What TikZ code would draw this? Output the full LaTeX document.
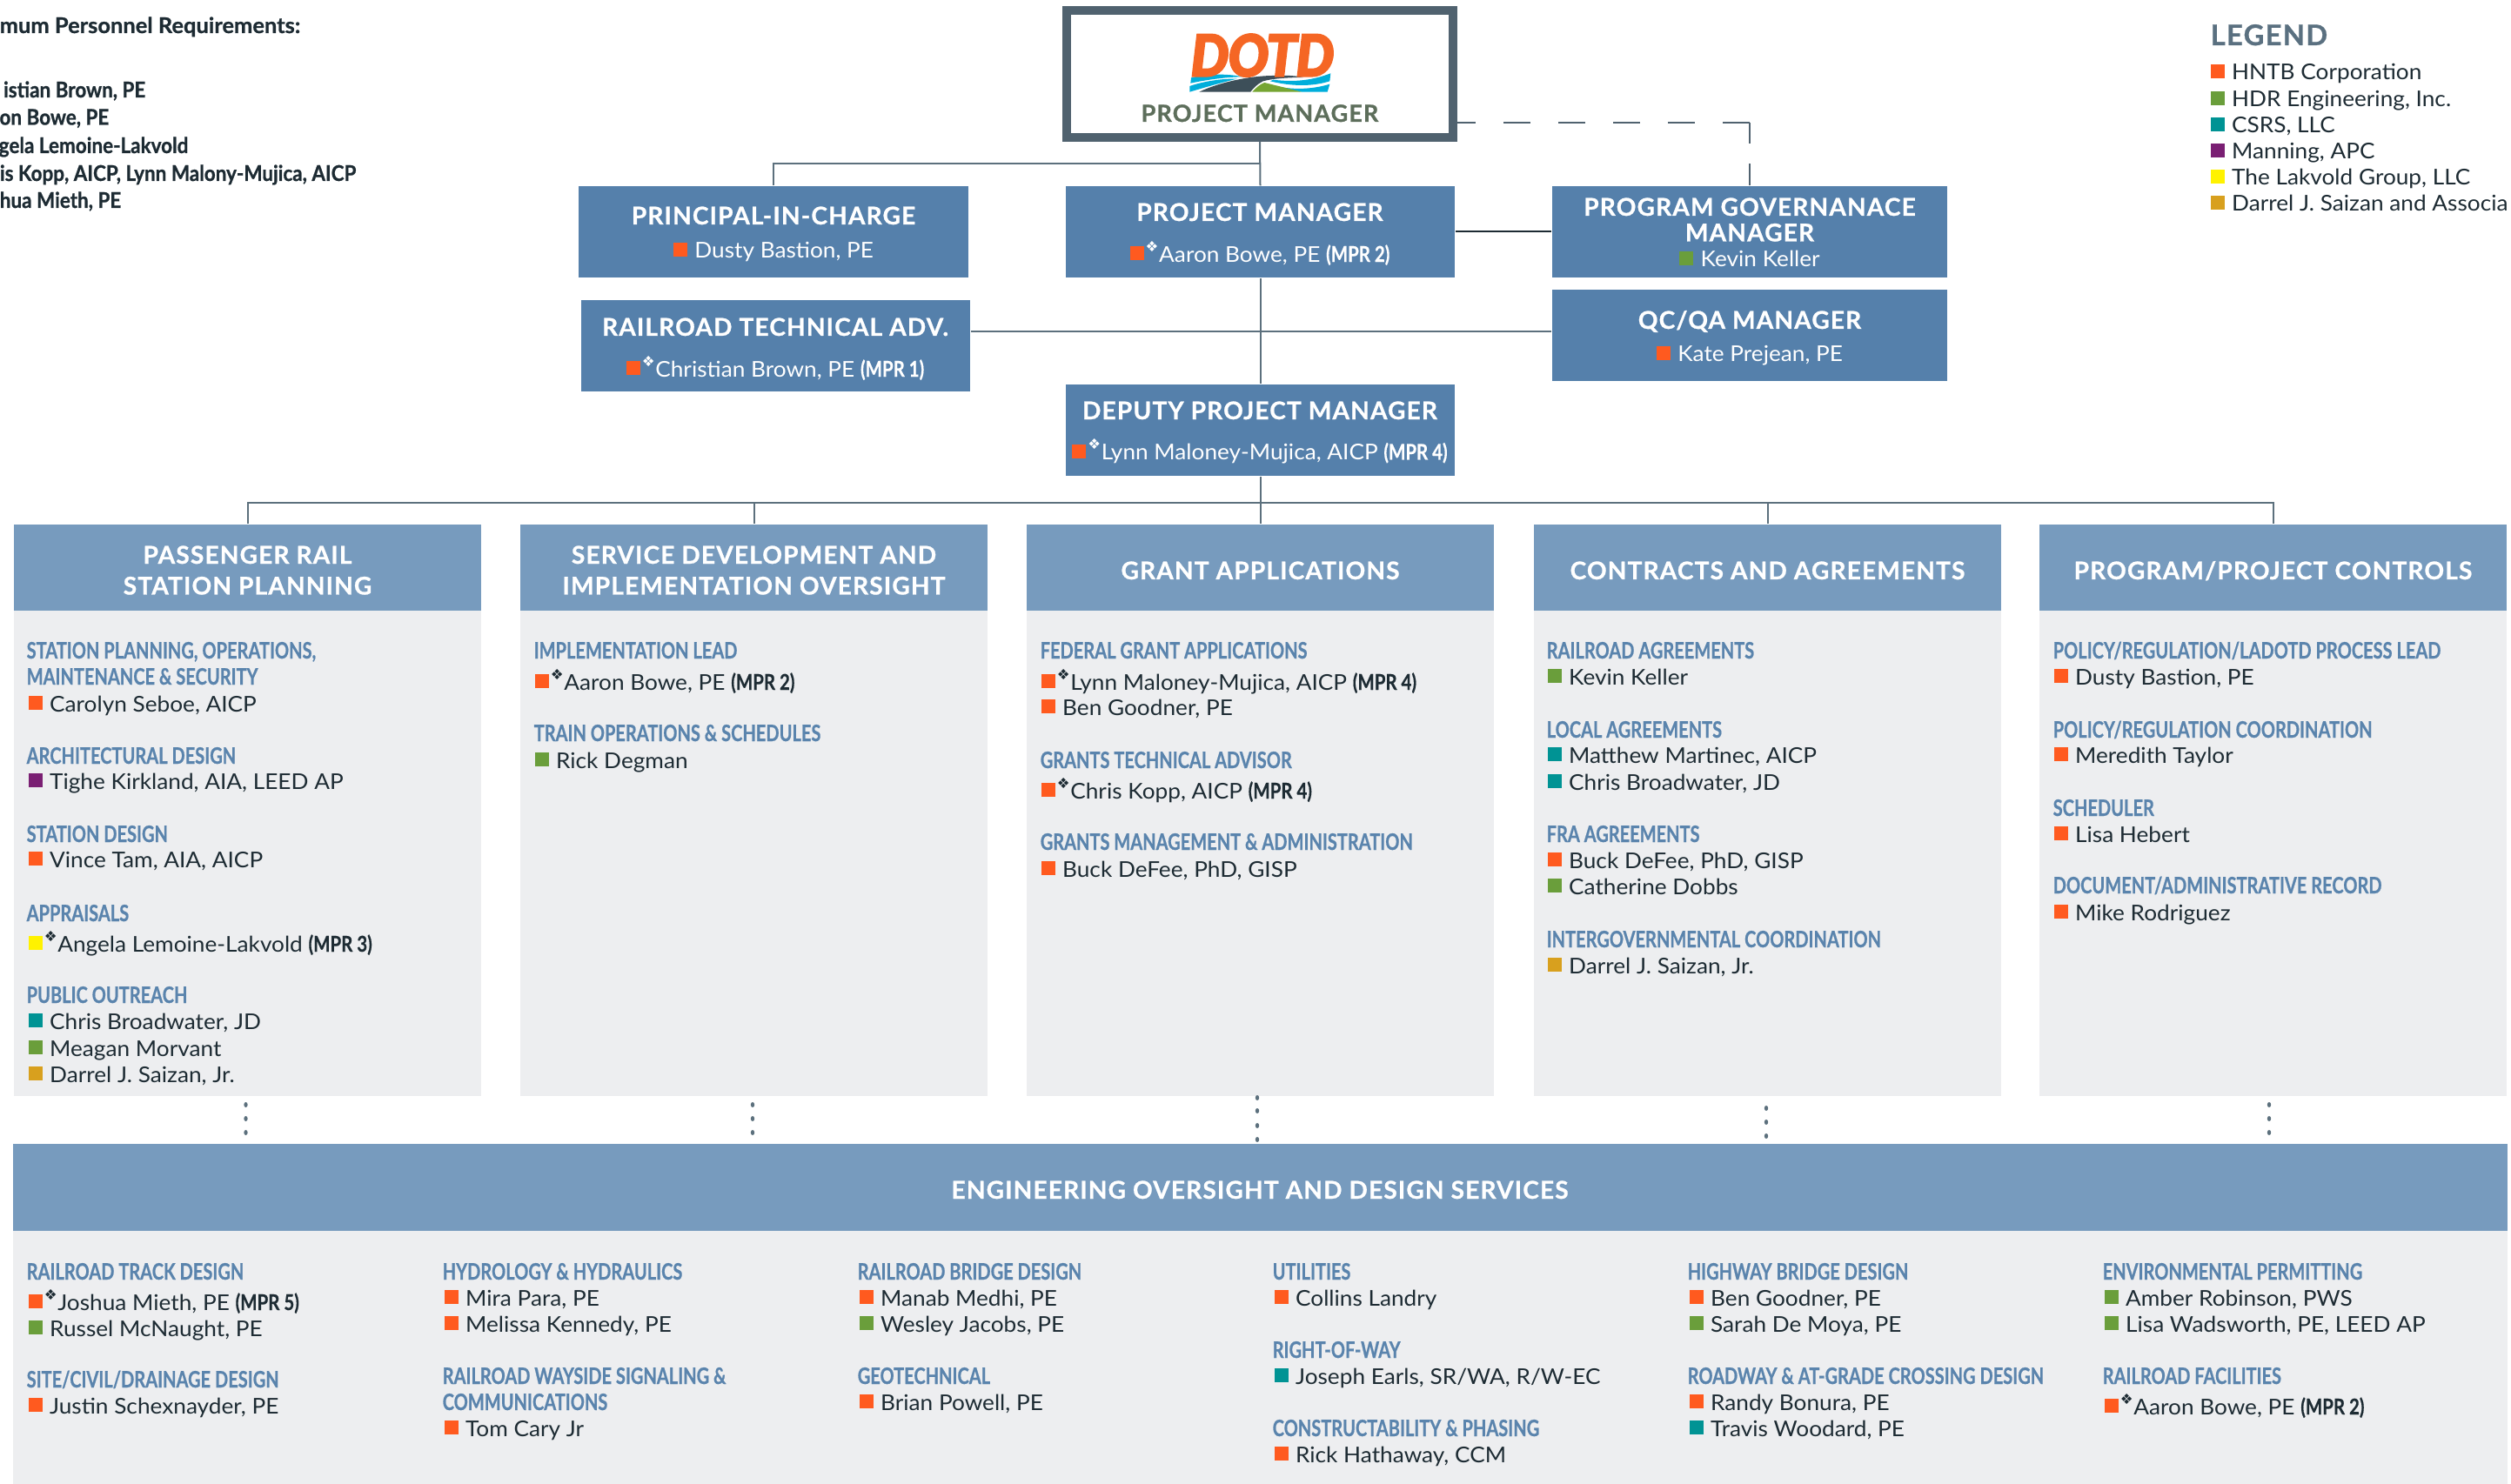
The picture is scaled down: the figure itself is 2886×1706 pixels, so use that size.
\documentclass[tikz,border=0pt]{standalone}
\usepackage{fontspec}
\setmainfont[FakeStretch=1.05]{Lato}
\newfontfamily\hdfont[FakeStretch=0.77,FakeBold=.6]{Lato}
\newfontfamily\mprfont[FakeStretch=0.82,FakeBold=.4]{Lato}
\newfontfamily\reqfont[FakeStretch=0.9,FakeBold=.8]{Lato}
\newfontfamily\reqheadfont[FakeStretch=1.02,FakeBold=.8]{Lato}
\newfontfamily\titlefont[LetterSpace=4,FakeBold=.8]{Lato}
\newfontfamily\lgfont[FakeStretch=0.94,FakeBold=5]{Lato}
\newfontfamily\keyfont{DejaVu Sans}
\definecolor{boxblue}{HTML}{5580AB}
\definecolor{headblue}{HTML}{779BBE}
\definecolor{panelgray}{HTML}{EDEEF0}
\definecolor{hdblue}{HTML}{5A84AD}
\definecolor{lineslate}{HTML}{5C707D}
\definecolor{frameslate}{HTML}{50626F}
\definecolor{inkdark}{HTML}{1D2B33}
\definecolor{legendslate}{HTML}{5A7080}
\definecolor{pmolive}{HTML}{5D6E5B}
\definecolor{hntb}{HTML}{FF5A1F}
\definecolor{hdr}{HTML}{6A9E3B}
\definecolor{csrs}{HTML}{009394}
\definecolor{manning}{HTML}{7A1F73}
\definecolor{lakvold}{HTML}{FFF200}
\definecolor{saizan}{HTML}{D8A01E}
\definecolor{logoorange}{HTML}{F56624}
\definecolor{logocyan}{HTML}{00AEDB}
\definecolor{logoroad}{HTML}{3D4F59}
\definecolor{logogreen}{HTML}{76A532}
\newcommand{\colsq}[1]{{\color{#1}\rule[.55pt]{4.55pt}{4.55pt}}\hspace{2.4pt}}
\newcommand{\colsqk}[1]{{\color{#1}\rule[.55pt]{4.55pt}{4.55pt}}\hspace{.6pt}\raisebox{3.3pt}{\fontsize{4.7}{5}\keyfont ❖}\hspace{.2pt}}
\newcommand{\mprn}[1]{{\mprfont\bfseries (MPR #1)}}
\tikzset{
  orgbox/.style={fill=boxblue,minimum width=4.47cm,minimum height=1.05cm,inner sep=0},
  colhead/.style={fill=headblue,minimum width=5.37cm,minimum height=.99cm,inner sep=0},
  colbody/.style={fill=panelgray,minimum width=5.37cm,minimum height=5.58cm,inner sep=0},
  orgline/.style={draw=lineslate,line width=.02cm},
  govline/.style={draw=frameslate,line width=.02cm,dash pattern=on .31cm off .32cm,dash phase=.1cm},
  boxtitle/.style={anchor=base,inner sep=0,text=white,font=\fontsize{8}{9}\titlefont\bfseries},
  boxname/.style={anchor=base,inner sep=0,text=white,font=\fontsize{7.1}{9}\selectfont},
  hdg/.style={anchor=base west,inner sep=0,text=hdblue,font=\fontsize{7.4}{9}\hdfont\bfseries},
  staff/.style={anchor=base west,inner sep=0,text=inkdark,font=\fontsize{7.1}{9}\selectfont},
  reqtext/.style={anchor=base east,inner sep=0,text=inkdark,font=\fontsize{7.1}{9}\reqfont\bfseries}
}
\begin{document}
\begin{tikzpicture}[x=.01cm,y=-.01cm]
\useasboundingbox (0,0) rectangle (2886,1706);

% top box and logo
\node[draw=frameslate,line width=.1cm,fill=white,minimum width=4.44cm,minimum height=1.45cm,inner sep=0] (top) at (1448,85) {};
\begin{scope}[shift={(1350,25)},x=.01cm/3,y=-.01cm/3]
  \fill[logocyan] (57,193) .. controls (110,180) and (180,178) .. (235,190) .. controls (190,190) and (120,198) .. (55,212) -- cycle;
  \fill[logocyan] (52,222) .. controls (100,205) and (170,195) .. (215,197) .. controls (160,210) and (110,225) .. (52,242) -- cycle;
  \fill[logocyan] (340,200) .. controls (420,210) and (480,200) .. (538,178) -- (535,205) .. controls (470,225) and (400,222) .. (330,205) -- cycle;
  \fill[logocyan] (340,220) .. controls (400,235) and (470,235) .. (535,215) -- (527,242) -- (440,242) .. controls (400,235) and (360,228) .. (340,220) -- cycle;
  \fill[logoroad] (85,242) .. controls (140,215) and (240,188) .. (335,186) .. controls (380,184) and (420,186) .. (445,192) .. controls (400,192) and (340,195) .. (305,205) .. controls (285,215) and (270,230) .. (262,242) -- cycle;
  \fill[logogreen] (268,242) .. controls (280,228) and (295,215) .. (310,210) .. controls (350,220) and (400,232) .. (438,242) -- cycle;
\end{scope}
\node[anchor=base,inner sep=0,text=logoorange,font=\fontsize{18.4}{20}\lgfont\bfseries\itshape] (logotext) at (1451,87) {DOTD};
\node[boxtitle,text=pmolive,font=\fontsize{7.7}{9}\titlefont\bfseries] (topt) at (1448,140) {PROJECT MANAGER};

% blue boxes
\node[orgbox] (pic) at (889,266.5) {};
\node[orgbox] (pm) at (1448.5,266.5) {};
\node[orgbox,minimum width=4.54cm] (gov) at (2011,266.5) {};
\node[orgbox] (rta) at (891.5,397.5) {};
\node[orgbox,minimum width=4.54cm] (qc) at (2011,385.5) {};
\node[orgbox] (dpm) at (1448.5,494.5) {};

\node[boxtitle] (pict) at (889,258) {PRINCIPAL-IN-CHARGE};
\node[boxname] (picn) at (889,297) {\colsq{hntb}Dusty Bastion, PE};
\node[boxtitle] (pmt) at (1448,254) {PROJECT MANAGER};
\node[boxname] (pmn) at (1448,301) {\colsqk{hntb}Aaron Bowe, PE \mprn{2}};
\node[boxtitle] (govt) at (2011,248) {PROGRAM GOVERNANACE};
\node[boxtitle] (govu) at (2011,277.5) {MANAGER};
\node[boxname] (govn) at (2011,307) {\colsq{hdr}Kevin Keller};
\node[boxtitle] (rtat) at (891,386) {RAILROAD TECHNICAL ADV.};
\node[boxname] (rtan) at (891,433) {\colsqk{hntb}Christian Brown, PE \mprn{1}};
\node[boxtitle] (qct) at (2011,378) {QC/QA MANAGER};
\node[boxname] (qcn) at (2011,416) {\colsq{hntb}Kate Prejean, PE};
\node[boxtitle] (dpmt) at (1448,482) {DEPUTY PROJECT MANAGER};
\node[boxname] (dpmn) at (1448,528.5) {\colsqk{hntb}Lynn Maloney-Mujica, AICP \mprn{4}};

% columns
\foreach \x/\n in {284.5/c1,866.5/c2,1448.5/c3,2031.5/c4,2612.5/c5}{
  \node[colbody] (\n b) at (\x,981) {};
  \node[colhead] (\n h) at (\x,652.5) {};
}
\node[boxtitle] (c1t) at (284.5,648) {PASSENGER RAIL};
\node[boxtitle] (c1u) at (284.5,683.5) {STATION PLANNING};
\node[boxtitle] (c2t) at (866.5,648) {SERVICE DEVELOPMENT AND};
\node[boxtitle] (c2u) at (866.5,683.5) {IMPLEMENTATION OVERSIGHT};
\node[boxtitle] (c3t) at (1448.5,666) {GRANT APPLICATIONS};
\node[boxtitle] (c4t) at (2031.5,666) {CONTRACTS AND AGREEMENTS};
\node[boxtitle] (c5t) at (2612.5,666) {PROGRAM/PROJECT CONTROLS};

% bottom band
\node[fill=panelgray,minimum width=28.65cm,minimum height=2.91cm,inner sep=0] (engb) at (1448.5,1560.5) {};
\node[fill=headblue,minimum width=28.65cm,minimum height=1cm,inner sep=0] (engh) at (1448.5,1365) {};
\node[boxtitle] (engt) at (1448,1378) {ENGINEERING OVERSIGHT AND DESIGN SERVICES};

% connectors
\coordinate (tap) at (1448.5,188);
\coordinate (advt) at (1448.5,381);
\coordinate (bus) at (1448.5,578);
\coordinate (corner) at (2011,141);
\draw[orgline] (top.south) -- (pm.north);
\draw[orgline] (pic.north) |- (tap);
\draw[orgline,draw=inkdark] (pm.east) -- (pm.east -| gov.west);
\draw[orgline] (pm.south) -- (dpm.north);
\draw[orgline] (rta.east |- advt) -- (qc.west |- advt);
\draw[orgline] (dpm.south) -- (c3h.north);
\draw[orgline] (c1h.north) |- (bus) -| (c5h.north);
\draw[orgline] (c2h.north) |- (bus);
\draw[orgline] (c4h.north) |- (bus);
\draw[govline] (top.east |- corner) -- (corner);
\draw[orgline,draw=frameslate] (corner) -- ++(0,24);
\draw[orgline,draw=frameslate] (gov.north) -- ++(0,-25);
\foreach \x/\y in {282.5/1270,282.5/1286,282.5/1302,865/1270,865/1286,865/1302,
    1445/1262,1445/1277,1445/1294,1445/1310,2030/1274,2030/1290,2030/1306,2608/1270,2608/1286,2608/1302}
  \fill[lineslate] (\x,\y) ellipse (2.2 and 3);

% column 1
\node[hdg] (a1) at (30,757) {STATION PLANNING, OPERATIONS,};
\node[hdg] (a2) at (30,787) {MAINTENANCE \& SECURITY};
\node[staff] (a3) at (32,818) {\colsq{hntb}Carolyn Seboe, AICP};
\node[hdg] (a4) at (30,878) {ARCHITECTURAL DESIGN};
\node[staff] (a5) at (32,907) {\colsq{manning}Tighe Kirkland, AIA, LEED AP};
\node[hdg] (a6) at (30,968) {STATION DESIGN};
\node[staff] (a7) at (32,997) {\colsq{hntb}Vince Tam, AIA, AICP};
\node[hdg] (a8) at (30,1059) {APPRAISALS};
\node[staff] (a9) at (32,1094) {\colsqk{lakvold}Angela Lemoine-Lakvold \mprn{3}};
\node[hdg] (a10) at (30,1153) {PUBLIC OUTREACH};
\node[staff] (a11) at (32,1183) {\colsq{csrs}Chris Broadwater, JD};
\node[staff] (a12) at (32,1214) {\colsq{hdr}Meagan Morvant};
\node[staff] (a13) at (32,1244) {\colsq{saizan}Darrel J. Saizan, Jr.};

% column 2
\node[hdg] (b1) at (613,757) {IMPLEMENTATION LEAD};
\node[staff] (b2) at (614,793) {\colsqk{hntb}Aaron Bowe, PE \mprn{2}};
\node[hdg] (b3) at (613,852) {TRAIN OPERATIONS \& SCHEDULES};
\node[staff] (b4) at (614,883) {\colsq{hdr}Rick Degman};

% column 3
\node[hdg] (d1) at (1195,757) {FEDERAL GRANT APPLICATIONS};
\node[staff] (d2) at (1196,793) {\colsqk{hntb}Lynn Maloney-Mujica, AICP \mprn{4}};
\node[staff] (d3) at (1196,822) {\colsq{hntb}Ben Goodner, PE};
\node[hdg] (d4) at (1195,883) {GRANTS TECHNICAL ADVISOR};
\node[staff] (d5) at (1196,918) {\colsqk{hntb}Chris Kopp, AICP \mprn{4}};
\node[hdg] (d6) at (1195,977) {GRANTS MANAGEMENT \& ADMINISTRATION};
\node[staff] (d7) at (1196,1008) {\colsq{hntb}Buck DeFee, PhD, GISP};

% column 4
\node[hdg] (e1) at (1777,757) {RAILROAD AGREEMENTS};
\node[staff] (e2) at (1778,787) {\colsq{hdr}Kevin Keller};
\node[hdg] (e3) at (1777,848) {LOCAL AGREEMENTS};
\node[staff] (e4) at (1778,877) {\colsq{csrs}Matthew Martinec, AICP};
\node[staff] (e5) at (1778,908) {\colsq{csrs}Chris Broadwater, JD};
\node[hdg] (e6) at (1777,968) {FRA AGREEMENTS};
\node[staff] (e7) at (1778,998) {\colsq{hntb}Buck DeFee, PhD, GISP};
\node[staff] (e8) at (1778,1028) {\colsq{hdr}Catherine Dobbs};
\node[hdg] (e9) at (1777,1089) {INTERGOVERNMENTAL COORDINATION};
\node[staff] (e10) at (1778,1119) {\colsq{saizan}Darrel J. Saizan, Jr.};

% column 5
\node[hdg] (f1) at (2359,757) {POLICY/REGULATION/LADOTD PROCESS LEAD};
\node[staff] (f2) at (2360,787) {\colsq{hntb}Dusty Bastion, PE};
\node[hdg] (f3) at (2359,848) {POLICY/REGULATION COORDINATION};
\node[staff] (f4) at (2360,877) {\colsq{hntb}Meredith Taylor};
\node[hdg] (f5) at (2359,938) {SCHEDULER};
\node[staff] (f6) at (2360,968) {\colsq{hntb}Lisa Hebert};
\node[hdg] (f7) at (2359,1027) {DOCUMENT/ADMINISTRATIVE RECORD};
\node[staff] (f8) at (2360,1058) {\colsq{hntb}Mike Rodriguez};

% engineering services
\node[hdg] (g1) at (30,1471) {RAILROAD TRACK DESIGN};
\node[staff] (g2) at (32,1506) {\colsqk{hntb}Joshua Mieth, PE \mprn{5}};
\node[staff] (g3) at (32,1536) {\colsq{hdr}Russel McNaught, PE};
\node[hdg] (g4) at (30,1595) {SITE/CIVIL/DRAINAGE DESIGN};
\node[staff] (g5) at (32,1625) {\colsq{hntb}Justin Schexnayder, PE};

\node[hdg] (k1) at (508,1471) {HYDROLOGY \& HYDRAULICS};
\node[staff] (k2) at (510,1501) {\colsq{hntb}Mira Para, PE};
\node[staff] (k3) at (510,1531) {\colsq{hntb}Melissa Kennedy, PE};
\node[hdg] (k4) at (508,1591) {RAILROAD WAYSIDE SIGNALING \&};
\node[hdg] (k5) at (508,1621) {COMMUNICATIONS};
\node[staff] (k6) at (510,1651) {\colsq{hntb}Tom Cary Jr};

\node[hdg] (l1) at (985,1471) {RAILROAD BRIDGE DESIGN};
\node[staff] (l2) at (987,1501) {\colsq{hntb}Manab Medhi, PE};
\node[staff] (l3) at (987,1531) {\colsq{hdr}Wesley Jacobs, PE};
\node[hdg] (l4) at (985,1591) {GEOTECHNICAL};
\node[staff] (l5) at (987,1621) {\colsq{hntb}Brian Powell, PE};

\node[hdg] (m1) at (1462,1471) {UTILITIES};
\node[staff] (m2) at (1464,1501) {\colsq{hntb}Collins Landry};
\node[hdg] (m3) at (1462,1561) {RIGHT-OF-WAY};
\node[staff] (m4) at (1464,1591) {\colsq{csrs}Joseph Earls, SR/WA, R/W-EC};
\node[hdg] (m5) at (1462,1651) {CONSTRUCTABILITY \& PHASING};
\node[staff] (m6) at (1464,1681) {\colsq{hntb}Rick Hathaway, CCM};

\node[hdg] (n1) at (1939,1471) {HIGHWAY BRIDGE DESIGN};
\node[staff] (n2) at (1941,1501) {\colsq{hntb}Ben Goodner, PE};
\node[staff] (n3) at (1941,1531) {\colsq{hdr}Sarah De Moya, PE};
\node[hdg] (n4) at (1939,1591) {ROADWAY \& AT-GRADE CROSSING DESIGN};
\node[staff] (n5) at (1941,1621) {\colsq{hntb}Randy Bonura, PE};
\node[staff] (n6) at (1941,1651) {\colsq{csrs}Travis Woodard, PE};

\node[hdg] (o1) at (2416,1471) {ENVIRONMENTAL PERMITTING};
\node[staff] (o2) at (2418,1501) {\colsq{hdr}Amber Robinson, PWS};
\node[staff] (o3) at (2418,1531) {\colsq{hdr}Lisa Wadsworth, PE, LEED AP};
\node[hdg] (o4) at (2416,1591) {RAILROAD FACILITIES};
\node[staff] (o5) at (2418,1626) {\colsqk{hntb}Aaron Bowe, PE \mprn{2}};

% legend
\node[anchor=base west,inner sep=0,text=legendslate,font=\fontsize{9.3}{10}\titlefont\bfseries] (lgt) at (2540,52) {LEGEND};
\node[staff] (lg1) at (2540,92) {\colsq{hntb}HNTB Corporation};
\node[staff] (lg2) at (2540,122.5) {\colsq{hdr}HDR Engineering, Inc.};
\node[staff] (lg3) at (2540,153) {\colsq{csrs}CSRS, LLC};
\node[staff] (lg4) at (2540,183) {\colsq{manning}Manning, APC};
\node[staff] (lg5) at (2540,213) {\colsq{lakvold}The Lakvold Group, LLC};
\node[staff] (lg6) at (2540,243) {\colsq{saizan}Darrel J. Saizan and Associa};

% requirements list
\node[reqtext,font=\fontsize{7.1}{9}\reqheadfont\bfseries] (r1) at (346,38) {mum Personnel Requirements:};
\node[reqtext] (r2) at (168,112) {istian Brown, PE};
\node[reqtext] (r3) at (126,143.5) {on Bowe, PE};
\node[reqtext] (r4) at (217,176) {gela Lemoine-Lakvold};
\node[reqtext] (r5) at (410,208) {is Kopp, AICP, Lynn Malony-Mujica, AICP};
\node[reqtext] (r6) at (140,239) {hua Mieth, PE};
\end{tikzpicture}
\end{document}
